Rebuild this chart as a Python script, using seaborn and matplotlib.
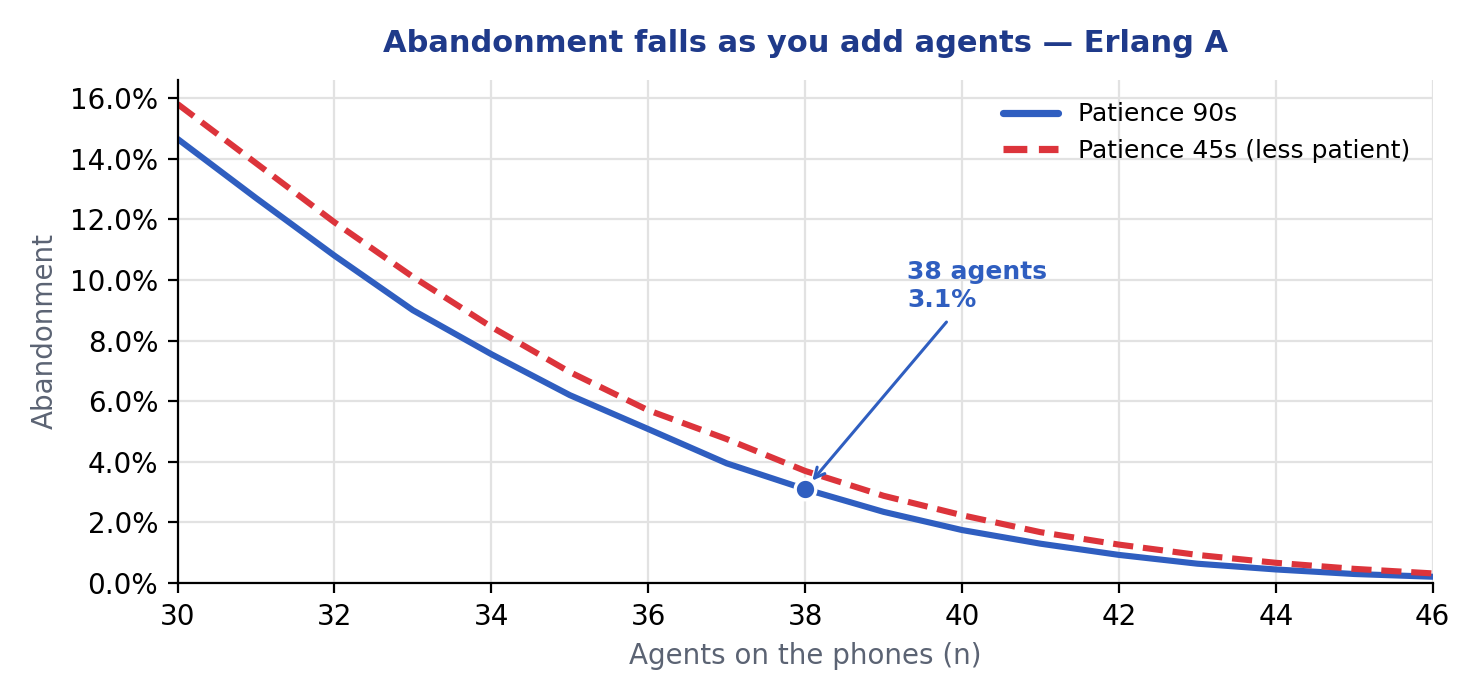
import numpy as np
import pandas as pd
import matplotlib
matplotlib.use("Agg")
import matplotlib.pyplot as plt
import seaborn as sns
from matplotlib.ticker import PercentFormatter

# ajan sayisi ve iki sabir senaryosu icin terk orani (%)
agents = list(range(30, 47))
aband_90 = [14.65, 12.7, 10.8, 9.0, 7.55, 6.2, 5.08, 3.95, 3.1, 2.35, 1.75, 1.3, 0.93, 0.64, 0.45, 0.3, 0.21]
aband_45 = [15.8, 13.85, 11.9, 10.1, 8.45, 6.96, 5.7, 4.75, 3.7, 2.88, 2.24, 1.68, 1.27, 0.93, 0.67, 0.47, 0.32]
labels = ["Patience 90s", "Patience 45s (less patient)"]
mark_n = 38
mark_val = 3.1

BLUE = "#2f5ec0"
RED = "#dc343b"

df = pd.DataFrame({
    "agents": agents * 2,
    "aband": aband_90 + aband_45,
    "series": [labels[0]] * len(agents) + [labels[1]] * len(agents),
})

sns.set_style("ticks")
plt.rcParams["font.family"] = ["DejaVu Sans"]

fig, ax = plt.subplots(figsize=(7.4, 3.5), dpi=200)
fig.subplots_adjust(left=0.12, right=0.968, top=0.886, bottom=0.167)

sns.lineplot(data=df, x="agents", y="aband", hue="series", style="series",
             palette=[BLUE, RED], dashes=[(None, None), (3.3, 1.6)],
             linewidth=2.2, ax=ax)

ax.scatter([mark_n], [mark_val], s=55, color=BLUE, edgecolor="white",
           linewidth=1.2, zorder=5)
ax.annotate(f"{mark_n} agents\n{mark_val}%", xy=(mark_n, mark_val),
            xytext=(39.3, 8.95), ha="left", va="bottom",
            color=BLUE, fontsize=9, fontweight="bold",
            arrowprops=dict(arrowstyle="->", color=BLUE, lw=1.1,
                            shrinkA=2, shrinkB=4))

ax.set_xlim(30, 46)
ax.set_ylim(0, 16.6)
ax.set_xticks(range(30, 47, 2))
ax.yaxis.set_major_formatter(PercentFormatter(decimals=1))
ax.tick_params(labelsize=10, colors="black")
ax.grid(True, color="#e2e2e2", linewidth=0.8)
for s in ["left", "bottom"]:
    ax.spines[s].set_color("black")
sns.despine(ax=ax)

ax.set_xlabel("Agents on the phones (n)", color="#5b6373", fontsize=10)
ax.set_ylabel("Abandonment", color="#5b6373", fontsize=10)
ax.set_title("Abandonment falls as you add agents \u2014 Erlang A",
             color="#1f3a8a", fontsize=11, fontweight="bold", pad=10)

leg = ax.legend(frameon=False, fontsize=9, loc="upper right", handlelength=2.2,
                labelcolor="black")
leg.set_title(None)
for h in leg.get_lines():
    h.set_linewidth(2.6)

fig.savefig("out.png", dpi=200)
